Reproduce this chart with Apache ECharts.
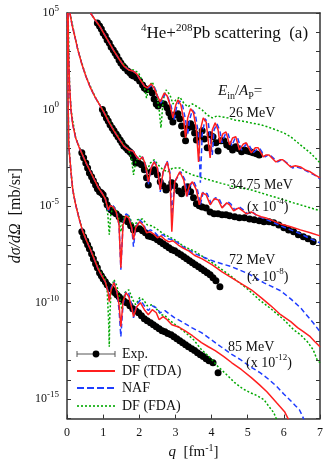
<!DOCTYPE html>
<html>
<head>
<meta charset="UTF-8">
<title>4He+208Pb scattering</title>
<script src="https://cdn.jsdelivr.net/npm/echarts@6.0.0/dist/echarts.min.js"></script>
<style>
  html, body { margin: 0; padding: 0; background: #fff; }
  #main { width: 332px; height: 465px; }
</style>
</head>
<body>
<div id="main"></div>
<script>
// every pair is [q in fm^-1, log10 of dsigma/dOmega in mb/sr], scale factors already applied
var exp26 = [[0.84,4.48],[0.90,4.33],[0.95,4.17],[1.00,3.97],[1.06,3.81],[1.11,3.60],[1.17,3.45],[1.22,3.24],[1.28,3.09],[1.33,2.93],[1.38,2.78],[1.44,2.57],[1.49,2.41],[1.55,2.26],[1.60,2.15],[1.68,2.00],[1.74,1.90],[1.79,1.79],[1.84,1.74],[1.93,1.64],[2.01,1.48],[2.09,1.27],[2.14,1.12],[2.20,1.02],[2.28,1.07],[2.36,0.86],[2.41,0.55],[2.47,0.29],[2.52,0.19],[2.60,0.34],[2.69,0.29],[2.77,0.09],[2.82,-0.17],[2.88,-0.38],[2.93,-0.64],[2.98,-0.28],[3.07,-0.22],[3.12,-0.48],[3.17,-0.85],[3.23,-1.26],[3.28,-1.62],[3.34,-0.95],[3.42,-0.74],[3.47,-0.90],[3.53,-1.21],[3.58,-1.57],[3.66,-1.36],[3.74,-1.10],[3.80,-1.52],[3.88,-1.98],[3.96,-1.31],[4.04,-1.41],[4.12,-1.72],[4.18,-2.14],[4.26,-1.62],[4.34,-1.62],[4.42,-1.83],[4.50,-1.93],[4.58,-2.09],[4.67,-1.93],[4.75,-2.03],[4.83,-2.19],[4.91,-2.09],[4.99,-2.14],[5.07,-2.19],[5.15,-2.24],[5.24,-2.29],[5.32,-2.35]];
var tda26 = [[0.65,5.00],[0.76,4.69],[0.90,4.33],[1.03,3.91],[1.17,3.45],[1.30,3.03],[1.44,2.62],[1.57,2.26],[1.71,2.05],[1.82,2.00],[1.93,1.85],[2.03,1.53],[2.14,1.22],[2.22,1.12],[2.33,1.33],[2.41,1.12],[2.50,0.71],[2.58,0.40],[2.69,0.86],[2.77,0.71],[2.85,0.24],[2.93,-0.43],[3.01,0.24],[3.07,0.50],[3.15,0.24],[3.23,-0.53],[3.28,-1.47],[3.34,-0.43],[3.42,0.04],[3.50,-0.17],[3.58,-1.05],[3.64,-2.71],[3.69,-1.05],[3.77,-0.43],[3.85,-0.64],[3.96,-2.50],[4.02,-1.05],[4.10,-0.69],[4.18,-1.05],[4.23,-1.72],[4.31,-1.26],[4.40,-1.16],[4.50,-1.83],[4.58,-1.47],[4.67,-1.41],[4.77,-2.09],[4.88,-1.78],[4.96,-1.72],[5.10,-2.24],[5.21,-1.98],[5.29,-1.98],[5.43,-2.45],[5.51,-2.35],[5.59,-2.35],[5.78,-2.71],[5.89,-2.60],[5.97,-2.60],[6.19,-2.97],[6.32,-2.91],[6.46,-2.97],[6.59,-3.12],[6.73,-3.22],[6.86,-3.38],[7.00,-3.54]];
var naf26 = [[0.65,5.00],[0.76,4.69],[0.90,4.33],[1.03,3.91],[1.17,3.45],[1.30,3.03],[1.44,2.62],[1.57,2.26],[1.71,2.05],[1.82,2.00],[1.93,1.85],[2.03,1.53],[2.14,1.22],[2.25,1.12],[2.36,1.27],[2.44,1.07],[2.52,0.60],[2.60,0.34],[2.71,0.81],[2.79,0.65],[2.88,0.19],[2.96,-0.53],[3.04,0.19],[3.12,0.45],[3.20,0.19],[3.28,-0.53],[3.34,-1.31],[3.39,-0.53],[3.47,-0.02],[3.55,-0.22],[3.64,-1.31],[3.69,-3.79],[3.74,-1.31],[3.82,-0.48],[3.91,-0.69],[4.02,-2.35],[4.07,-1.05],[4.15,-0.74],[4.23,-1.10],[4.29,-1.72],[4.37,-1.31],[4.45,-1.21],[4.56,-1.88],[4.64,-1.52],[4.72,-1.47],[4.83,-2.09],[4.94,-1.83],[5.02,-1.78],[5.15,-2.24],[5.26,-2.04],[5.34,-2.04],[5.48,-2.45],[5.56,-2.35],[5.64,-2.40],[5.83,-2.71],[5.94,-2.60],[6.02,-2.66],[6.24,-3.02],[6.35,-2.97],[6.51,-3.07],[6.67,-3.22],[6.84,-3.38],[7.00,-3.59]];
var fda26 = [[0.65,5.00],[0.90,4.33],[1.17,3.45],[1.44,2.62],[1.71,2.05],[1.84,2.05],[1.98,1.90],[2.12,1.33],[2.20,0.60],[2.28,1.22],[2.36,1.43],[2.47,0.91],[2.55,-0.02],[2.60,-0.95],[2.66,0.50],[2.74,1.02],[2.85,0.76],[2.93,0.29],[3.01,0.50],[3.12,0.65],[3.23,0.34],[3.34,0.14],[3.47,0.29],[3.61,0.14],[3.74,-0.02],[3.88,-0.28],[4.02,-0.43],[4.15,-0.33],[4.29,-0.38],[4.45,-0.43],[4.64,-0.54],[4.83,-0.59],[5.10,-0.69],[5.37,-0.79],[5.56,-0.90],[5.78,-1.05],[6.00,-1.21],[6.19,-1.41],[6.46,-1.83],[6.73,-2.24],[6.92,-2.60],[7.00,-2.76]];

var exp3475 = [[0.98,0.00],[1.03,-0.22],[1.09,-0.43],[1.14,-0.59],[1.19,-0.79],[1.25,-0.95],[1.30,-1.10],[1.36,-1.26],[1.41,-1.41],[1.47,-1.57],[1.52,-1.72],[1.57,-1.88],[1.63,-1.98],[1.68,-2.09],[1.74,-2.19],[1.79,-2.29],[1.84,-2.50],[1.90,-2.76],[1.98,-2.76],[2.06,-2.86],[2.14,-3.12],[2.20,-3.53],[2.25,-3.90],[2.33,-3.22],[2.41,-3.12],[2.50,-3.38],[2.58,-3.74],[2.66,-3.95],[2.74,-4.16],[2.82,-4.05],[2.90,-3.79],[2.98,-3.95],[3.09,-4.21],[3.17,-4.36],[3.26,-4.10],[3.34,-4.00],[3.42,-4.26],[3.50,-4.57],[3.58,-4.88],[3.66,-4.98],[3.74,-5.04],[3.85,-5.09],[3.96,-5.30],[4.07,-5.40],[4.18,-5.40],[4.29,-5.45],[4.40,-5.45],[4.50,-5.50],[4.64,-5.55],[4.77,-5.60],[4.91,-5.60],[5.05,-5.66],[5.18,-5.71],[5.32,-5.76],[5.45,-5.81],[5.59,-5.81],[5.72,-5.86],[5.86,-5.97],[6.00,-6.12],[6.13,-6.23],[6.27,-6.33],[6.40,-6.48],[6.54,-6.59],[6.67,-6.69],[6.81,-6.85]];
var tda3475 = [[0.08,5.00],[0.14,4.38],[0.22,3.76],[0.30,3.09],[0.41,2.36],[0.52,1.74],[0.65,1.12],[0.79,0.60],[0.92,0.19],[1.03,-0.17],[1.17,-0.69],[1.30,-1.10],[1.44,-1.52],[1.57,-1.88],[1.71,-2.09],[1.82,-2.14],[1.93,-2.45],[2.01,-2.60],[2.09,-2.45],[2.17,-2.86],[2.25,-3.74],[2.33,-3.02],[2.41,-2.71],[2.50,-3.02],[2.58,-4.16],[2.66,-3.22],[2.77,-2.71],[2.85,-3.38],[2.90,-6.33],[2.98,-3.74],[3.12,-3.22],[3.23,-3.64],[3.31,-4.50],[3.39,-3.90],[3.47,-3.74],[3.58,-4.16],[3.66,-4.93],[3.74,-4.31],[3.85,-4.41],[3.96,-4.93],[4.07,-4.62],[4.18,-4.67],[4.29,-5.09],[4.42,-4.83],[4.50,-4.93],[4.61,-5.24],[4.75,-5.09],[4.86,-5.24],[4.96,-5.40],[5.10,-5.30],[5.24,-5.45],[5.37,-5.55],[5.51,-5.61],[5.64,-5.71],[5.91,-5.92],[6.19,-6.07],[6.46,-6.23],[6.73,-6.38],[7.00,-6.54]];
var naf3475 = [[0.08,5.00],[0.14,4.38],[0.22,3.76],[0.30,3.09],[0.41,2.36],[0.52,1.74],[0.65,1.12],[0.79,0.60],[0.92,0.19],[1.03,-0.17],[1.17,-0.69],[1.30,-1.10],[1.44,-1.52],[1.57,-1.88],[1.71,-2.09],[1.82,-2.14],[1.93,-2.45],[2.01,-2.60],[2.09,-2.45],[2.17,-2.86],[2.25,-3.90],[2.33,-3.02],[2.41,-2.66],[2.50,-2.97],[2.58,-4.26],[2.66,-3.22],[2.77,-2.66],[2.85,-3.28],[2.90,-5.45],[2.98,-3.74],[3.15,-3.22],[3.26,-3.64],[3.34,-4.52],[3.42,-3.90],[3.50,-3.69],[3.61,-4.16],[3.69,-4.93],[3.77,-4.26],[3.88,-4.36],[3.99,-4.88],[4.10,-4.57],[4.21,-4.62],[4.31,-5.04],[4.45,-4.78],[4.53,-4.88],[4.64,-5.19],[4.77,-5.04],[4.88,-5.19],[4.99,-5.40],[5.13,-5.30],[5.26,-5.50],[5.40,-5.61],[5.53,-5.71],[5.67,-5.81],[5.91,-6.02],[6.19,-6.23],[6.46,-6.43],[6.73,-6.69],[7.00,-6.90]];
var fda3475 = [[0.08,5.00],[0.30,3.09],[0.52,1.74],[0.79,0.60],[1.03,-0.12],[1.30,-1.05],[1.57,-1.83],[1.71,-2.09],[1.79,-2.60],[1.84,-3.38],[1.90,-2.71],[2.01,-2.40],[2.12,-2.60],[2.22,-3.12],[2.31,-2.76],[2.41,-2.60],[2.52,-2.86],[2.66,-3.12],[2.79,-3.22],[2.93,-3.02],[3.12,-3.02],[3.28,-3.22],[3.47,-3.38],[3.74,-3.53],[4.21,-3.79],[4.64,-4.00],[5.10,-4.16],[5.53,-4.41],[5.91,-4.62],[6.27,-4.83],[6.65,-5.04],[7.00,-5.24]];

var exp72 = [[0.41,-2.24],[0.46,-2.50],[0.52,-2.76],[0.57,-3.02],[0.62,-3.28],[0.68,-3.48],[0.73,-3.69],[0.79,-3.90],[0.84,-4.10],[0.90,-4.26],[0.95,-4.31],[1.00,-4.41],[1.06,-4.67],[1.11,-4.93],[1.17,-5.09],[1.22,-5.19],[1.28,-5.30],[1.36,-5.40],[1.44,-5.55],[1.52,-5.66],[1.60,-5.71],[1.68,-5.81],[1.76,-6.02],[1.84,-6.23],[1.93,-6.17],[2.01,-6.17],[2.09,-6.28],[2.17,-6.38],[2.25,-6.54],[2.33,-6.59],[2.41,-6.64],[2.50,-6.74],[2.58,-6.85],[2.66,-6.95],[2.74,-7.05],[2.82,-7.16],[2.90,-7.26],[2.98,-7.31],[3.07,-7.42],[3.15,-7.52],[3.23,-7.62],[3.31,-7.73],[3.39,-7.83],[3.47,-7.93],[3.55,-8.04],[3.64,-8.14],[3.72,-8.24],[3.80,-8.35],[3.88,-8.45],[3.96,-8.55],[4.04,-8.71],[4.12,-8.86],[4.23,-9.17]];
var tda72 = [[0.03,5.00],[0.04,3.09],[0.07,1.27],[0.11,-0.02],[0.16,-0.79],[0.24,-1.47],[0.33,-1.93],[0.43,-2.35],[0.54,-2.81],[0.65,-3.22],[0.76,-3.64],[0.87,-4.05],[0.98,-4.36],[1.06,-4.62],[1.14,-5.19],[1.19,-4.98],[1.28,-5.04],[1.36,-5.30],[1.44,-5.97],[1.49,-8.19],[1.55,-5.97],[1.63,-5.50],[1.71,-5.61],[1.79,-6.12],[1.84,-6.74],[1.90,-6.12],[2.01,-5.81],[2.12,-6.02],[2.20,-6.38],[2.31,-6.33],[2.39,-6.43],[2.50,-6.64],[2.60,-6.54],[2.71,-6.74],[2.82,-6.85],[2.93,-6.79],[3.07,-7.00],[3.20,-7.16],[3.36,-7.31],[3.55,-7.57],[3.74,-7.73],[4.02,-8.04],[4.29,-8.40],[4.56,-8.71],[4.83,-9.02],[5.10,-9.33],[5.37,-9.74],[5.64,-10.16],[5.91,-10.62],[6.19,-10.98],[6.38,-11.29],[6.54,-11.50],[6.73,-11.76],[6.86,-12.02],[7.00,-12.28]];
var naf72 = [[0.03,5.00],[0.04,3.09],[0.07,1.27],[0.11,-0.02],[0.16,-0.79],[0.24,-1.47],[0.33,-1.93],[0.43,-2.35],[0.54,-2.81],[0.65,-3.22],[0.76,-3.64],[0.87,-4.05],[0.98,-4.36],[1.06,-4.62],[1.14,-5.30],[1.19,-4.98],[1.28,-4.98],[1.36,-5.24],[1.44,-5.97],[1.49,-8.29],[1.55,-5.92],[1.63,-5.40],[1.71,-5.50],[1.79,-6.12],[1.84,-7.10],[1.90,-6.12],[2.01,-5.71],[2.12,-5.92],[2.20,-6.33],[2.31,-6.23],[2.41,-6.33],[2.52,-6.54],[2.66,-6.48],[2.79,-6.69],[2.93,-6.74],[3.07,-6.90],[3.20,-7.10],[3.36,-7.26],[3.55,-7.47],[3.74,-7.62],[4.10,-7.88],[4.56,-8.14],[5.02,-8.50],[5.45,-8.97],[5.91,-9.38],[6.19,-9.80],[6.46,-10.26],[6.81,-11.04],[7.00,-11.50]];
var fda72 = [[0.03,5.00],[0.07,1.27],[0.11,-0.02],[0.24,-1.47],[0.43,-2.35],[0.65,-3.22],[0.87,-4.05],[1.06,-4.57],[1.13,-5.45],[1.17,-6.48],[1.21,-5.45],[1.28,-4.98],[1.36,-5.19],[1.44,-5.71],[1.49,-6.33],[1.57,-5.61],[1.68,-5.40],[1.79,-5.81],[1.87,-6.07],[1.95,-5.71],[2.09,-5.66],[2.22,-5.97],[2.36,-6.02],[2.52,-6.23],[2.66,-6.43],[2.88,-6.64],[3.07,-6.85],[3.20,-7.05],[3.55,-7.36],[4.02,-7.93],[4.29,-8.29],[4.56,-8.66],[5.02,-9.33],[5.32,-9.85],[5.64,-10.31],[6.00,-10.88],[6.27,-11.40],[6.46,-11.66],[6.65,-12.02],[6.81,-12.43],[6.92,-12.95],[7.00,-13.11]];

var exp85 = [[0.41,-6.33],[0.46,-6.59],[0.52,-6.79],[0.57,-7.00],[0.62,-7.21],[0.68,-7.47],[0.73,-7.73],[0.79,-7.98],[0.84,-8.19],[0.90,-8.45],[0.95,-8.61],[1.00,-8.76],[1.06,-8.92],[1.11,-9.07],[1.17,-9.17],[1.22,-9.28],[1.28,-9.38],[1.33,-9.48],[1.38,-9.59],[1.44,-9.69],[1.49,-9.79],[1.57,-9.90],[1.65,-10.00],[1.74,-10.16],[1.82,-10.31],[1.90,-10.41],[1.98,-10.52],[2.06,-10.67],[2.14,-10.83],[2.22,-10.93],[2.31,-11.04],[2.39,-11.14],[2.47,-11.24],[2.55,-11.35],[2.63,-11.45],[2.71,-11.50],[2.79,-11.60],[2.88,-11.66],[2.96,-11.76],[3.04,-11.86],[3.12,-11.97],[3.20,-12.07],[3.28,-12.17],[3.36,-12.28],[3.45,-12.38],[3.53,-12.48],[3.61,-12.59],[3.69,-12.69],[3.77,-12.79],[3.85,-12.90],[3.93,-13.00],[4.04,-13.11],[4.18,-13.62]];
var tda85 = [[0.01,5.00],[0.03,0.50],[0.05,-1.90],[0.11,-3.22],[0.16,-4.16],[0.24,-4.93],[0.33,-5.61],[0.43,-6.28],[0.54,-6.79],[0.65,-7.26],[0.76,-7.78],[0.87,-8.29],[0.98,-8.66],[1.06,-8.92],[1.14,-9.48],[1.17,-9.95],[1.22,-9.33],[1.30,-8.97],[1.38,-9.43],[1.44,-10.10],[1.49,-11.24],[1.55,-9.95],[1.63,-9.48],[1.71,-9.69],[1.79,-10.26],[1.84,-10.72],[1.93,-10.21],[2.03,-10.00],[2.14,-10.36],[2.25,-10.62],[2.36,-10.36],[2.47,-10.52],[2.55,-10.88],[2.66,-10.72],[2.77,-10.88],[2.90,-11.14],[3.07,-11.24],[3.26,-11.45],[3.47,-11.71],[3.72,-12.07],[3.91,-12.28],[4.10,-12.48],[4.34,-12.79],[4.56,-13.11],[4.83,-13.47],[5.10,-13.88],[5.32,-14.24],[5.53,-14.61],[5.80,-15.18],[6.02,-15.64],[6.13,-16.05]];
var naf85 = [[0.01,5.00],[0.03,0.50],[0.05,-1.90],[0.11,-3.22],[0.16,-4.16],[0.24,-4.93],[0.33,-5.61],[0.43,-6.28],[0.54,-6.79],[0.65,-7.26],[0.76,-7.78],[0.87,-8.29],[0.98,-8.66],[1.06,-8.92],[1.14,-9.43],[1.17,-9.85],[1.22,-9.22],[1.30,-8.92],[1.38,-9.43],[1.44,-10.36],[1.49,-11.76],[1.55,-10.10],[1.63,-9.43],[1.71,-9.54],[1.79,-10.10],[1.84,-10.78],[1.93,-10.10],[2.03,-9.85],[2.14,-10.16],[2.25,-10.41],[2.36,-10.16],[2.47,-10.26],[2.58,-10.52],[2.71,-10.41],[2.82,-10.57],[2.98,-10.78],[3.17,-10.98],[3.45,-11.29],[3.72,-11.55],[3.99,-11.91],[4.26,-12.28],[4.53,-12.64],[4.80,-12.95],[5.07,-13.31],[5.34,-13.62],[5.59,-13.98],[5.81,-14.35],[5.99,-14.71],[6.16,-15.02],[6.32,-15.33],[6.43,-15.54],[6.51,-15.85],[6.57,-16.11]];
var fda85 = [[0.01,5.00],[0.03,0.50],[0.05,-1.90],[0.11,-3.22],[0.16,-4.16],[0.24,-4.93],[0.33,-5.61],[0.43,-6.23],[0.54,-6.74],[0.65,-7.21],[0.76,-7.73],[0.87,-8.19],[0.98,-8.55],[1.06,-8.81],[1.11,-9.33],[1.15,-10.88],[1.17,-12.28],[1.18,-10.88],[1.22,-9.33],[1.30,-8.81],[1.38,-9.12],[1.47,-9.85],[1.52,-10.36],[1.60,-9.48],[1.71,-9.33],[1.82,-9.85],[1.90,-10.10],[2.01,-9.74],[2.12,-9.85],[2.22,-10.16],[2.36,-10.10],[2.47,-10.31],[2.60,-10.62],[2.71,-10.67],[2.82,-10.88],[3.07,-11.24],[3.28,-11.55],[3.50,-11.91],[3.72,-12.43],[3.93,-12.79],[4.18,-13.31],[4.42,-13.73],[4.64,-14.14],[4.86,-14.45],[5.07,-14.66],[5.26,-14.81],[5.45,-15.02],[5.59,-15.38],[5.72,-15.69],[5.80,-16.05]];

var yLabelExps = [5, 0, -5, -10, -15];
var groupLabels = [
  { energy: '26 MeV', scale: null },
  { energy: '34.75 MeV', scale: '-4' },
  { energy: '72 MeV', scale: '-8' },
  { energy: '85 MeV', scale: '-12' }
];
var legendNames = ['Exp.', 'DF (TDA)', 'NAF', 'DF (FDA)'];

var serif = '"Liberation Serif", "Times New Roman", serif';
var ink = '#111';
var redC = '#ff1f1f', blueC = '#1f3dff', greenC = '#00a800';

var chart = echarts.init(document.getElementById('main'), null, { renderer: 'canvas' });

var series = [];
var groups = [
  [exp26, fda26, naf26, tda26],
  [exp3475, fda3475, naf3475, tda3475],
  [exp72, fda72, naf72, tda72],
  [exp85, fda85, naf85, tda85]
];
groups.forEach(function (g) {
  series.push({ type: 'scatter', data: g[0], symbol: 'circle', symbolSize: 7,
    itemStyle: { color: '#000', opacity: 1 }, z: 2 });
});
groups.forEach(function (g) {
  series.push({ type: 'line', data: g[1], showSymbol: false, symbol: 'none', z: 3,
    lineStyle: { color: greenC, width: 1.5, type: [2, 2] } });
  series.push({ type: 'line', data: g[2], showSymbol: false, symbol: 'none', z: 4,
    lineStyle: { color: blueC, width: 1.5, type: [5, 3] } });
  series.push({ type: 'line', data: g[3], showSymbol: false, symbol: 'none', z: 5,
    lineStyle: { color: redC, width: 1.5 } });
});

function richSet(size) {
  return {
    n: { fontFamily: serif, fontSize: size, fill: ink, lineHeight: size + 5 },
    it: { fontFamily: serif, fontSize: size, fontStyle: 'italic', fill: ink, lineHeight: size + 5 },
    sup: { fontFamily: serif, fontSize: Math.round(size * 0.66), fill: ink, lineHeight: Math.round(size * 0.7), verticalAlign: 'top' },
    sub: { fontFamily: serif, fontSize: Math.round(size * 0.66), fill: ink, lineHeight: Math.round(size * 0.7), verticalAlign: 'bottom' }
  };
}
function txt(x, y, s, size) {
  size = size || 14;
  return { type: 'text', x: x, y: y, z: 10,
    style: { text: s, rich: richSet(size), fill: ink, font: size + 'px ' + serif, verticalAlign: 'middle' } };
}

var labelPos = [[229, 113, 0, 0], [229, 185, 247, 207], [229, 260, 247, 277], [228, 347, 246, 363]];
var graphics = [
  txt(141, 34, '{sup|4}{n|He+}{sup|208}{n|Pb scattering  (a)}', 17),
  txt(218, 91, '{it|E}{sub|in}{n|/}{it|A}{sub|P}{n|=}', 15)
];
groupLabels.forEach(function (g, i) {
  var p = labelPos[i];
  graphics.push(txt(p[0], p[1], '{n|' + g.energy + '}', 14));
  if (g.scale) graphics.push(txt(p[2], p[3], '{n|(x 10}{sup|' + g.scale + '}{n|)}', 14));
});

// legend
var lx1 = 77, lx2 = 115, ly = [354, 371, 388, 406];
graphics.push({ type: 'line', z: 10, shape: { x1: lx1, y1: ly[0], x2: lx2, y2: ly[0] }, style: { stroke: '#555', lineWidth: 1 } });
graphics.push({ type: 'line', z: 10, shape: { x1: lx1, y1: ly[0] - 3, x2: lx1, y2: ly[0] + 3 }, style: { stroke: '#555', lineWidth: 1 } });
graphics.push({ type: 'line', z: 10, shape: { x1: lx2, y1: ly[0] - 3, x2: lx2, y2: ly[0] + 3 }, style: { stroke: '#555', lineWidth: 1 } });
graphics.push({ type: 'circle', z: 11, shape: { cx: (lx1 + lx2) / 2, cy: ly[0], r: 3.4 }, style: { fill: '#000' } });
graphics.push({ type: 'line', z: 10, shape: { x1: lx1, y1: ly[1], x2: lx2, y2: ly[1] }, style: { stroke: redC, lineWidth: 1.8 } });
graphics.push({ type: 'line', z: 10, shape: { x1: lx1, y1: ly[2], x2: lx2, y2: ly[2] }, style: { stroke: blueC, lineWidth: 1.8, lineDash: [7, 3] } });
graphics.push({ type: 'line', z: 10, shape: { x1: lx1, y1: ly[3], x2: lx2, y2: ly[3] }, style: { stroke: greenC, lineWidth: 1.6, lineDash: [2, 2] } });
legendNames.forEach(function (name, i) {
  graphics.push(txt(122, ly[i], '{n|' + name + '}', 14));
});

var axisCol = '#333';
var option = {
  animation: false,
  backgroundColor: '#fff',
  grid: { left: 62, right: 12, top: 13, bottom: 46 },
  xAxis: [{
    type: 'value', min: 0, max: 7, interval: 1, position: 'bottom',
    axisLine: { show: true, onZero: false, lineStyle: { color: axisCol, width: 1.5 } },
    axisTick: { show: true, inside: true, length: 4, lineStyle: { color: axisCol } },
    axisLabel: { margin: 8, fontFamily: serif, fontSize: 12, color: ink },
    splitLine: { show: false },
    name: '{i|q}  [fm{s|-1}]', nameLocation: 'middle', nameGap: 21,
    nameTextStyle: { fontFamily: serif, fontSize: 15, color: ink,
      rich: { i: { fontFamily: serif, fontSize: 15, fontStyle: 'italic', color: ink, lineHeight: 18 },
              s: { fontFamily: serif, fontSize: 10, color: ink, lineHeight: 10, verticalAlign: 'top' } } }
  }, {
    type: 'value', min: 0, max: 7, interval: 1, position: 'top',
    axisLine: { show: true, onZero: false, lineStyle: { color: axisCol, width: 1.5 } },
    axisTick: { show: false }, axisLabel: { show: false }, splitLine: { show: false }
  }],
  yAxis: [{
    type: 'value', min: -16, max: 5, interval: 1, position: 'left',
    axisLine: { show: true, onZero: false, lineStyle: { color: axisCol, width: 1.5 } },
    axisTick: { show: true, inside: true, length: 4, lineStyle: { color: axisCol } },
    axisLabel: {
      margin: 8,
      formatter: function (v) {
        return yLabelExps.indexOf(v) >= 0 ? '{b|10}{s|' + v + '}' : '';
      },
      rich: {
        b: { fontFamily: serif, fontSize: 12, color: ink, lineHeight: 18 },
        s: { fontFamily: serif, fontSize: 9, color: ink, lineHeight: 9, verticalAlign: 'top' }
      }
    },
    splitLine: { show: false },
    name: '{i|d\u03c3/d\u03a9}  [mb/sr]', nameLocation: 'middle', nameGap: 43, nameRotate: 90,
    nameTextStyle: { fontFamily: serif, fontSize: 16, color: ink,
      rich: { i: { fontFamily: serif, fontSize: 16, fontStyle: 'italic', color: ink } } }
  }, {
    type: 'value', min: -16, max: 5, interval: 1, position: 'right',
    axisLine: { show: true, onZero: false, lineStyle: { color: axisCol, width: 1.5 } },
    axisTick: { show: true, inside: true, length: 4, lineStyle: { color: axisCol } },
    axisLabel: { show: false }, splitLine: { show: false }
  }],
  graphic: graphics,
  series: series
};
chart.setOption(option);
</script>
</body>
</html>
